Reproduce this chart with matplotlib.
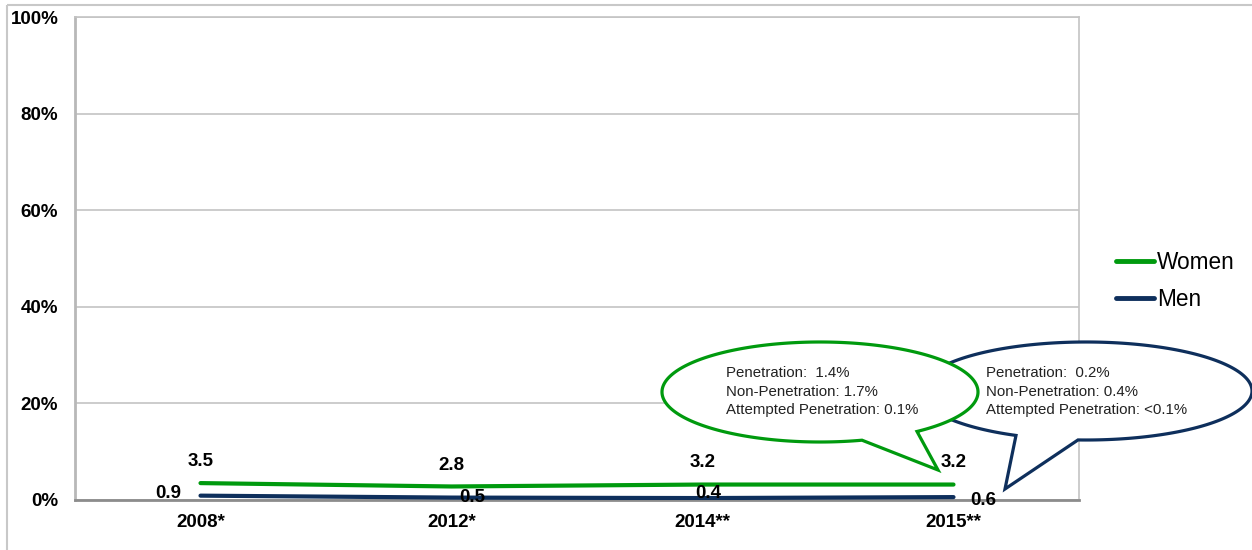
import numpy as np
import matplotlib
matplotlib.use("Agg")
import matplotlib.pyplot as plt
from matplotlib.patches import Polygon, Rectangle
from matplotlib.ticker import FuncFormatter

plt.rcParams['font.family'] = ['Liberation Sans', 'DejaVu Sans']

# Data
years = ['2008*', '2012*', '2014**', '2015**']
women = [3.5, 2.8, 3.2, 3.2]
men = [0.9, 0.5, 0.4, 0.6]
women_text = ['Penetration:  1.4%', 'Non-Penetration: 1.7%', 'Attempted Penetration: 0.1%']
men_text = ['Penetration:  0.2%', 'Non-Penetration: 0.4%', 'Attempted Penetration: <0.1%']

GREEN = '#009a0e'
NAVY = '#0e2f5c'

W, H = 1252, 550
fig = plt.figure(figsize=(W / 100, H / 100), dpi=100)
ax = fig.add_axes([75 / W, 50 / H, (1079 - 75) / W, (500 - 17) / H])

x = np.arange(len(years))
ax.plot(x, women, color=GREEN, lw=3, solid_capstyle='round', label='Women', zorder=3)
ax.plot(x, men, color=NAVY, lw=3, solid_capstyle='round', label='Men', zorder=3)

ax.set_xlim(-0.5, len(years) - 0.5)
ax.set_ylim(0, 100)
ax.set_yticks(range(0, 101, 20))
ax.yaxis.set_major_formatter(FuncFormatter(lambda v, p: f'{v:.0f}%'))
ax.set_xticks(x)
ax.set_xticklabels(years)
ax.tick_params(length=0, labelsize=13.5)
ax.tick_params(axis='y', pad=12)
ax.tick_params(axis='x', pad=10)
for lab in ax.get_xticklabels() + ax.get_yticklabels():
    lab.set_fontweight('bold')
ax.grid(axis='y', color='#c4c4c4', lw=1.2, zorder=0)
for side in ['top', 'right']:
    ax.spines[side].set_color('#c4c4c4')
    ax.spines[side].set_linewidth(1.2)
ax.spines['left'].set_color('#b8b8b8')
ax.spines['left'].set_linewidth(2)
ax.spines['bottom'].set_color('#8c8c8c')
ax.spines['bottom'].set_linewidth(2)

# data labels
women_off = [(0, 22), (0, 21), (0, 22), (0, 22)]
men_off = [(-32, 2), (21, 0), (6, 5), (30, -3)]
for i in range(len(years)):
    ax.annotate(f'{women[i]}', (x[i], women[i]), xytext=women_off[i], textcoords='offset pixels',
                ha='center', va='center', fontsize=13.5, fontweight='bold', zorder=5)
    ax.annotate(f'{men[i]}', (x[i], men[i]), xytext=men_off[i], textcoords='offset pixels',
                ha='center', va='center', fontsize=13.5, fontweight='bold', zorder=5)

leg = ax.legend(loc='center left', bbox_to_anchor=(1116 / W, 1 - 281 / H), bbox_transform=fig.transFigure,
                frameon=False, fontsize=16.3, handlelength=1.7, handletextpad=0.1,
                labelspacing=0.64, borderpad=0, borderaxespad=0)
for h in leg.get_lines():
    h.set_linewidth(3.5)

# overlay in pixel coordinates for the callouts
ov = fig.add_axes([0, 0, 1, 1], zorder=10)
ov.set_xlim(0, W)
ov.set_ylim(H, 0)
ov.axis('off')
ov.patch.set_alpha(0)

ov.add_patch(Rectangle((7, 5), W, H, fill=False, ec='#c8c8c8', lw=1.5))


def callout(cx, cy, a, b, b1, b2, tip, color):
    t1 = np.arccos((b1 - cx) / a)
    t2 = np.arccos((b2 - cx) / a)
    lo, hi = min(t1, t2), max(t1, t2)
    t = np.linspace(hi, lo + 2 * np.pi, 400)
    pts = np.column_stack([cx + a * np.cos(t), cy + b * np.sin(t)])
    pts = np.vstack([pts, [tip]])
    ov.add_patch(Polygon(pts, closed=True, fc='white', ec=color, lw=2.3, joinstyle='miter'))


callout(1086, 391, 166, 49, 1016, 1078, (1005, 489), NAVY)
callout(820, 392, 158, 50, 862, 917, (938, 470), GREEN)

for i, s in enumerate(women_text):
    ov.text(726, 373 + 18.5 * i, s, fontsize=10.8, ha='left', va='center', color='#222222')
for i, s in enumerate(men_text):
    ov.text(986, 373 + 18.5 * i, s, fontsize=10.8, ha='left', va='center', color='#222222')

fig.savefig('out.png', dpi=100)
